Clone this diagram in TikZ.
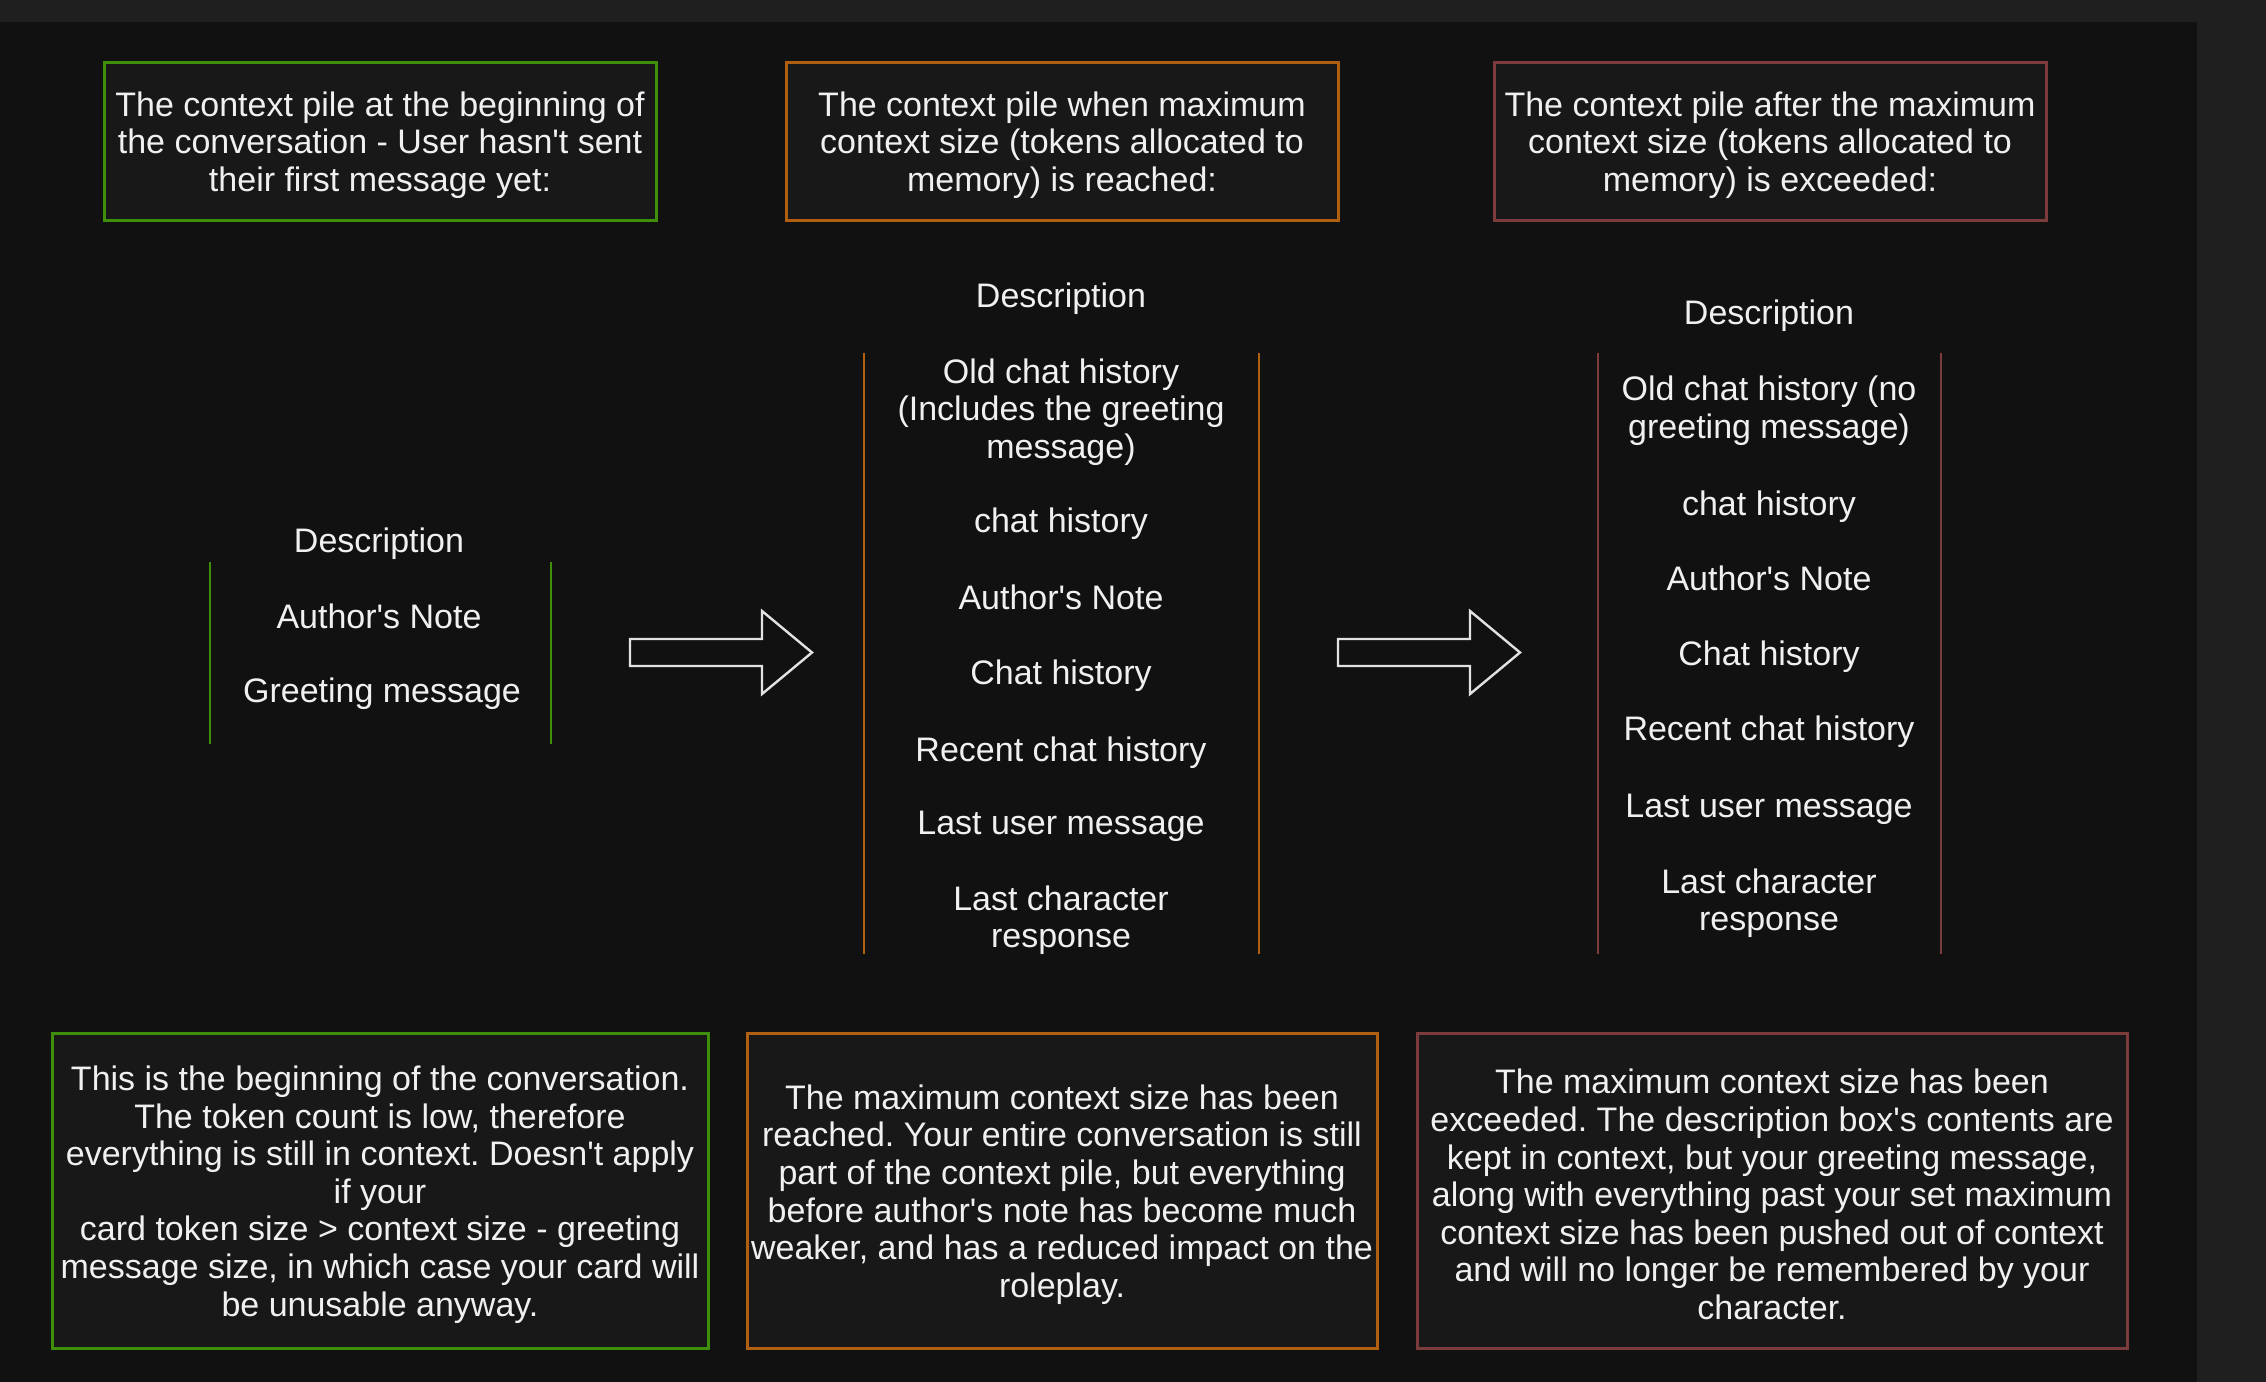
\documentclass[tikz,border=0pt]{standalone}
\usepackage{fontspec}
\setmainfont{Liberation Sans}[Ligatures=TeXOff]
\frenchspacing
\definecolor{bgdark}{HTML}{111111}
\definecolor{bgstrip}{HTML}{1F1F1F}
\definecolor{boxfill}{HTML}{181818}
\definecolor{txt}{HTML}{F0F0F0}
\definecolor{cgreen}{HTML}{3F8F0A}
\definecolor{corange}{HTML}{B0600E}
\definecolor{cred}{HTML}{7D3C3C}
\definecolor{arrowline}{HTML}{E2E2E2}
\tikzset{
  basefont/.style={font=\fontsize{17}{18.8}\selectfont\frenchspacing, text=txt},
  boxtext/.style={basefont, align=center, inner sep=0pt, yshift=-2pt},
  infobox/.style={draw=#1, line width=1.5pt, fill=boxfill, inner sep=0pt},
  topbox/.style={infobox=#1, minimum width=276pt, minimum height=79pt},
  botbox/.style={infobox=#1, minimum height=157.5pt},
  item/.style={basefont, align=center, inner sep=0pt},
  sideline/.style={draw=#1, line width=1pt},
  blockarrow/.style={draw=arrowline, line width=1.2pt, fill=bgdark, line join=miter}
}
\begin{document}
\begin{tikzpicture}[x=0.5pt,y=-0.5pt]
\useasboundingbox (0,0) rectangle (2266,1382);
\fill[bgstrip] (0,0) rectangle (2266,1382);
\fill[bgdark] (0,22) rectangle (2197,1382);

% top boxes
\node[topbox=cgreen, label={[boxtext]center:The context pile at the beginning of\\the conversation - User hasn't sent\\their first message yet:}] (t1) at (380,141) {};
\node[topbox=corange, label={[boxtext]center:The context pile when maximum\\context size (tokens allocated to\\memory) is reached:}] (t2) at (1062,141) {};
\node[topbox=cred, label={[boxtext]center:The context pile after the maximum\\context size (tokens allocated to\\memory) is exceeded:}] (t3) at (1770,141) {};

% left column
\node[item] (ld) at (379,544) {Description};
\node[item] (la) at (379,616) {Author's Note};
\node[item] (lg) at (382,694) {Greeting message};
\coordinate (l1) at (209.5,562); \coordinate (l2) at (209.5,744);
\coordinate (l3) at (550.5,562); \coordinate (l4) at (550.5,744);
\draw[sideline=cgreen] (l1) -- (l2);
\draw[sideline=cgreen] (l3) -- (l4);

% middle column
\node[item] (md) at (1061,299) {Description};
\node[item] (m1) at (1061,412) {Old chat history\\(Includes the greeting\\message)};
\node[item] (m2) at (1061,524) {chat history};
\node[item] (m3) at (1061,597) {Author's Note};
\node[item] (m4) at (1061,676) {Chat history};
\node[item] (m5) at (1061,753) {Recent chat history};
\node[item] (m6) at (1061,826) {Last user message};
\node[item] (m7) at (1061,920) {Last character\\response};
\coordinate (ma) at (864,353); \coordinate (mb) at (864,954);
\coordinate (mc) at (1259,353); \coordinate (me) at (1259,954);
\draw[sideline=corange] (ma) -- (mb);
\draw[sideline=corange] (mc) -- (me);

% right column
\node[item] (rd) at (1769,316) {Description};
\node[item] (r1) at (1769,411) {Old chat history (no\\greeting message)};
\node[item] (r2) at (1769,507) {chat history};
\node[item] (r3) at (1769,578) {Author's Note};
\node[item] (r4) at (1769,657) {Chat history};
\node[item] (r5) at (1769,732) {Recent chat history};
\node[item] (r6) at (1769,809) {Last user message};
\node[item] (r7) at (1769,903) {Last character\\response};
\coordinate (ra) at (1598,353); \coordinate (rb) at (1598,954);
\coordinate (rc) at (1941,353); \coordinate (re) at (1941,954);
\draw[sideline=cred] (ra) -- (rb);
\draw[sideline=cred] (rc) -- (re);

% block arrows
\draw[blockarrow] (630,639) -- (762,639) -- (762,611) -- (812,652.5) -- (762,694) -- (762,666) -- (630,666) -- cycle;
\draw[blockarrow] (1338,639) -- (1470,639) -- (1470,611) -- (1520,652.5) -- (1470,694) -- (1470,666) -- (1338,666) -- cycle;

% bottom boxes
\node[botbox=cgreen, minimum width=328pt, label={[boxtext]center:This is the beginning of the conversation.\\The token count is low, therefore\\everything is still in context. Doesn't apply\\if your\\card token size > context size - greeting\\message size, in which case your card will\\be unusable anyway.}] (b1) at (380,1190.5) {};
\node[botbox=corange, minimum width=315pt, label={[boxtext]center:The maximum context size has been\\reached. Your entire conversation is still\\part of the context pile, but everything\\before author's note has become much\\weaker, and has a reduced impact on the\\roleplay.}] (b2) at (1062,1190.5) {};
\node[botbox=cred, minimum width=355pt, label={[boxtext]center:The maximum context size has been\\exceeded. The description box's contents are\\kept in context, but your greeting message,\\along with everything past your set maximum\\context size has been pushed out of context\\and will no longer be remembered by your\\character.}] (b3) at (1772,1190.5) {};
\end{tikzpicture}
\end{document}
